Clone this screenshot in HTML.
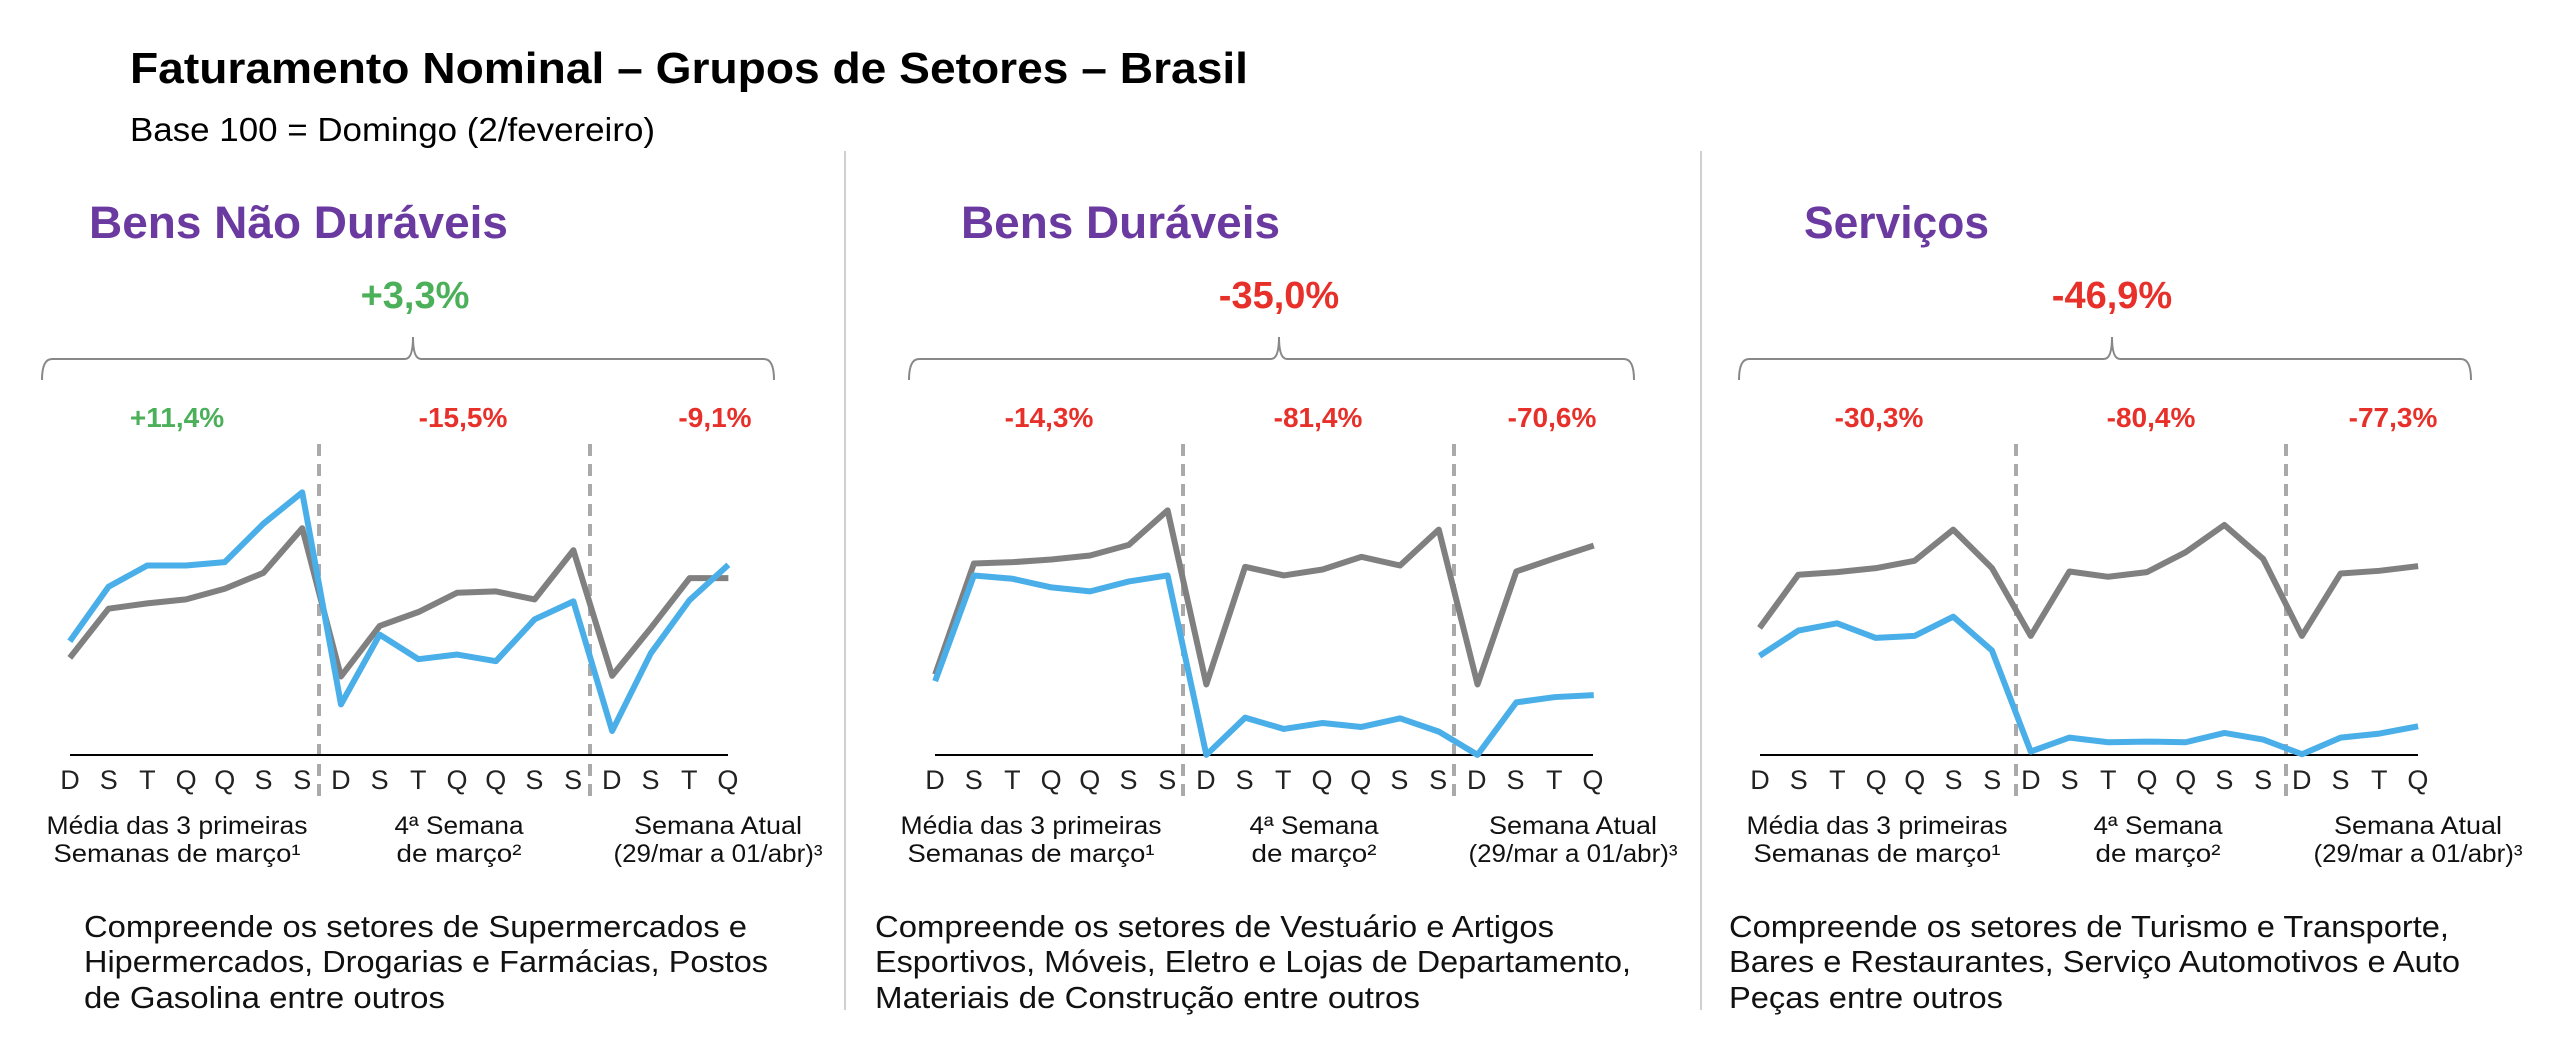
<!DOCTYPE html>
<html><head><meta charset="utf-8"><style>
html,body{margin:0;padding:0;background:#fff;}
svg{display:block;}
text{font-family:"Liberation Sans",sans-serif;}
</style></head><body>
<svg width="2558" height="1042" viewBox="0 0 2558 1042" xmlns="http://www.w3.org/2000/svg">
<rect width="2558" height="1042" fill="#fff"/>
<text x="130" y="83" font-size="44" font-weight="bold" fill="#000" textLength="1118" lengthAdjust="spacingAndGlyphs">Faturamento Nominal – Grupos de Setores – Brasil</text>
<text x="130" y="141" font-size="33" fill="#000" textLength="525" lengthAdjust="spacingAndGlyphs">Base 100 = Domingo (2/fevereiro)</text>
<line x1="845" y1="151" x2="845" y2="1010" stroke="#d0d0d0" stroke-width="2"/>
<line x1="1701" y1="151" x2="1701" y2="1010" stroke="#d0d0d0" stroke-width="2"/>

<!-- Panel 1 -->
<g>
<text x="89" y="238" font-size="45" font-weight="bold" fill="#6a3aa0" textLength="419" lengthAdjust="spacingAndGlyphs">Bens Não Duráveis</text>
<text x="415" y="308" font-size="38" font-weight="bold" fill="#4cb05a" text-anchor="middle">+3,3%</text>
<path d="M42,380 Q42,359 52,359 L405,359 Q413,359 413,337 Q413,359 421,359 L764,359 Q774,359 774,380" fill="none" stroke="#888" stroke-width="2"/>
<g font-size="28" font-weight="bold" text-anchor="middle">
<text x="177" y="427" fill="#4cb05a">+11,4%</text>
<text x="463" y="427" fill="#e8302a">-15,5%</text>
<text x="715" y="427" fill="#e8302a">-9,1%</text>
</g>
</g>
<!-- Panel 2 -->
<g>
<text x="961" y="238" font-size="45" font-weight="bold" fill="#6a3aa0" textLength="319" lengthAdjust="spacingAndGlyphs">Bens Duráveis</text>
<text x="1279" y="308" font-size="38" font-weight="bold" fill="#e8302a" text-anchor="middle">-35,0%</text>
<path d="M909,380 Q909,359 919,359 L1271,359 Q1279,359 1279,337 Q1279,359 1287,359 L1624,359 Q1634,359 1634,380" fill="none" stroke="#888" stroke-width="2"/>
<g font-size="28" font-weight="bold" text-anchor="middle" fill="#e8302a">
<text x="1049" y="427">-14,3%</text>
<text x="1318" y="427">-81,4%</text>
<text x="1552" y="427">-70,6%</text>
</g>
</g>
<!-- Panel 3 -->
<g>
<text x="1804" y="238" font-size="45" font-weight="bold" fill="#6a3aa0" textLength="185" lengthAdjust="spacingAndGlyphs">Serviços</text>
<text x="2112" y="308" font-size="38" font-weight="bold" fill="#e8302a" text-anchor="middle">-46,9%</text>
<path d="M1739,380 Q1739,359 1749,359 L2104,359 Q2112,359 2112,337 Q2112,359 2120,359 L2461,359 Q2471,359 2471,380" fill="none" stroke="#888" stroke-width="2"/>
<g font-size="28" font-weight="bold" text-anchor="middle" fill="#e8302a">
<text x="1879" y="427">-30,3%</text>
<text x="2151" y="427">-80,4%</text>
<text x="2393" y="427">-77,3%</text>
</g>
</g>

<!-- dashed -->
<g stroke="#aaa" stroke-width="4" stroke-dasharray="12,8">
<line x1="319" y1="444" x2="319" y2="797"/><line x1="590" y1="444" x2="590" y2="797"/>
<line x1="1183" y1="444" x2="1183" y2="797"/><line x1="1454" y1="444" x2="1454" y2="797"/>
<line x1="2016" y1="444" x2="2016" y2="797"/><line x1="2286" y1="444" x2="2286" y2="797"/>
</g>
<g stroke="#000" stroke-width="2">
<line x1="70" y1="755" x2="728" y2="755"/>
<line x1="935" y1="755" x2="1593" y2="755"/>
<line x1="1760" y1="755" x2="2418" y2="755"/>
</g>

<!-- series -->
<g fill="none" stroke-width="6" stroke-linejoin="round">
<g transform="translate(0,0) scale(0.5495,0.6645) translate(127,0)">
<polyline vector-effect="non-scaling-stroke" stroke="#808080" points="0,990 70.5,916 141,908 211.5,902 282,886 352.5,862 423,795 493.5,1018 564,942 634.5,921 705,892 775.5,890 846,902 916.5,828 987,1017 1057.5,945 1128,870 1198.5,870"/>
<polyline vector-effect="non-scaling-stroke" stroke="#4aafe8" points="0,965 70.5,883 141,851 211.5,851 282,846 352.5,788 423,741 493.5,1060 564,955 634.5,992 705,985 775.5,995 846,932 916.5,905 987,1100 1057.5,983 1128,903 1198.5,850"/>
</g>
<g transform="translate(850,0) scale(0.5495,0.6645) translate(155,0)">
<polyline vector-effect="non-scaling-stroke" stroke="#808080" points="0,1015 70.5,848 141,846 211.5,842 282,836 352.5,820 423,768 493.5,1030 564,853 634.5,866 705,857 775.5,838 846,851 916.5,797 987,1030 1057.5,860 1128,840 1198.5,821"/>
<polyline vector-effect="non-scaling-stroke" stroke="#4aafe8" points="0,1025 70.5,866 141,871 211.5,884 282,890 352.5,875 423,866 493.5,1136 564,1080 634.5,1097 705,1088 775.5,1094 846,1081 916.5,1101 987,1136 1057.5,1057 1128,1049 1198.5,1046"/>
</g>
<g transform="translate(1698,0) scale(0.5495,0.6645) translate(112,0)">
<polyline vector-effect="non-scaling-stroke" stroke="#808080" points="0,945 70.5,865 141,861 211.5,855 282,844 352.5,797 423,855 493.5,957 564,860 634.5,868 705,861 775.5,831 846,790 916.5,841 987,957 1057.5,863 1128,859 1198.5,852"/>
<polyline vector-effect="non-scaling-stroke" stroke="#4aafe8" points="0,987 70.5,949 141,938 211.5,960 282,957 352.5,928 423,979 493.5,1131 564,1110 634.5,1117 705,1116 775.5,1117 846,1103 916.5,1113 987,1135 1057.5,1110 1128,1104 1198.5,1093"/>
</g>
</g>

<!-- day labels -->
<g font-size="27" fill="#222" text-anchor="middle">
<g transform="translate(70,789)">
<text x="0">D</text><text x="38.7">S</text><text x="77.4">T</text><text x="116.1">Q</text><text x="154.8">Q</text><text x="193.5">S</text><text x="232.2">S</text><text x="270.9">D</text><text x="309.6">S</text><text x="348.3">T</text><text x="387">Q</text><text x="425.7">Q</text><text x="464.4">S</text><text x="503.1">S</text><text x="541.8">D</text><text x="580.5">S</text><text x="619.2">T</text><text x="657.9">Q</text>
</g>
<g transform="translate(935,789)">
<text x="0">D</text><text x="38.7">S</text><text x="77.4">T</text><text x="116.1">Q</text><text x="154.8">Q</text><text x="193.5">S</text><text x="232.2">S</text><text x="270.9">D</text><text x="309.6">S</text><text x="348.3">T</text><text x="387">Q</text><text x="425.7">Q</text><text x="464.4">S</text><text x="503.1">S</text><text x="541.8">D</text><text x="580.5">S</text><text x="619.2">T</text><text x="657.9">Q</text>
</g>
<g transform="translate(1760,789)">
<text x="0">D</text><text x="38.7">S</text><text x="77.4">T</text><text x="116.1">Q</text><text x="154.8">Q</text><text x="193.5">S</text><text x="232.2">S</text><text x="270.9">D</text><text x="309.6">S</text><text x="348.3">T</text><text x="387">Q</text><text x="425.7">Q</text><text x="464.4">S</text><text x="503.1">S</text><text x="541.8">D</text><text x="580.5">S</text><text x="619.2">T</text><text x="657.9">Q</text>
</g>
</g>

<!-- group labels -->
<g font-size="25" fill="#111" text-anchor="middle" lengthAdjust="spacingAndGlyphs">
<text x="177" y="834" textLength="261" lengthAdjust="spacingAndGlyphs">Média das 3 primeiras</text>
<text x="177" y="862" textLength="247" lengthAdjust="spacingAndGlyphs">Semanas  de março¹</text>
<text x="459" y="834" textLength="129" lengthAdjust="spacingAndGlyphs">4ª Semana</text>
<text x="459" y="862" textLength="125" lengthAdjust="spacingAndGlyphs">de março²</text>
<text x="718" y="834" textLength="168" lengthAdjust="spacingAndGlyphs">Semana Atual</text>
<text x="718" y="862" textLength="209" lengthAdjust="spacingAndGlyphs">(29/mar a 01/abr)³</text>

<text x="1031" y="834" textLength="261" lengthAdjust="spacingAndGlyphs">Média das 3 primeiras</text>
<text x="1031" y="862" textLength="247" lengthAdjust="spacingAndGlyphs">Semanas  de março¹</text>
<text x="1314" y="834" textLength="129" lengthAdjust="spacingAndGlyphs">4ª Semana</text>
<text x="1314" y="862" textLength="125" lengthAdjust="spacingAndGlyphs">de março²</text>
<text x="1573" y="834" textLength="168" lengthAdjust="spacingAndGlyphs">Semana Atual</text>
<text x="1573" y="862" textLength="209" lengthAdjust="spacingAndGlyphs">(29/mar a 01/abr)³</text>

<text x="1877" y="834" textLength="261" lengthAdjust="spacingAndGlyphs">Média das 3 primeiras</text>
<text x="1877" y="862" textLength="247" lengthAdjust="spacingAndGlyphs">Semanas  de março¹</text>
<text x="2158" y="834" textLength="129" lengthAdjust="spacingAndGlyphs">4ª Semana</text>
<text x="2158" y="862" textLength="125" lengthAdjust="spacingAndGlyphs">de março²</text>
<text x="2418" y="834" textLength="168" lengthAdjust="spacingAndGlyphs">Semana Atual</text>
<text x="2418" y="862" textLength="209" lengthAdjust="spacingAndGlyphs">(29/mar a 01/abr)³</text>
</g>

<!-- descriptions -->
<g font-size="31" fill="#111">
<text x="84" y="937" textLength="663" lengthAdjust="spacingAndGlyphs">Compreende os setores de Supermercados e</text>
<text x="84" y="972" textLength="684" lengthAdjust="spacingAndGlyphs">Hipermercados, Drogarias e Farmácias, Postos</text>
<text x="84" y="1008" textLength="361" lengthAdjust="spacingAndGlyphs">de Gasolina entre outros</text>

<text x="875" y="937" textLength="679" lengthAdjust="spacingAndGlyphs">Compreende os setores de Vestuário e Artigos</text>
<text x="875" y="972" textLength="756" lengthAdjust="spacingAndGlyphs">Esportivos, Móveis, Eletro e Lojas de Departamento,</text>
<text x="875" y="1008" textLength="545" lengthAdjust="spacingAndGlyphs">Materiais de Construção entre outros</text>

<text x="1729" y="937" textLength="720" lengthAdjust="spacingAndGlyphs">Compreende os setores de Turismo e Transporte,</text>
<text x="1729" y="972" textLength="731" lengthAdjust="spacingAndGlyphs">Bares e Restaurantes, Serviço Automotivos e Auto</text>
<text x="1729" y="1008" textLength="274" lengthAdjust="spacingAndGlyphs">Peças entre outros</text>
</g>
</svg>
</body></html>
